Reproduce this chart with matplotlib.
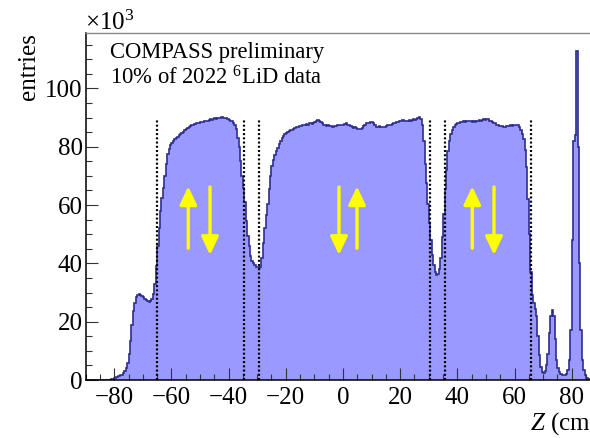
import numpy as np
import matplotlib
matplotlib.use("Agg")
import matplotlib.pyplot as plt
from matplotlib.ticker import MultipleLocator

plt.rcParams['font.family'] = ['Liberation Serif', 'DejaVu Serif']
plt.rcParams['mathtext.fontset'] = 'custom'
plt.rcParams['mathtext.rm'] = 'Liberation Serif'
plt.rcParams['mathtext.it'] = 'Liberation Serif:italic'

# entries per 0.5 cm bin, in units of 10^3, one row per 10 cm (from Z = -90 cm)
entries_k = [
    0, 0, 0, 0, 0, 0, 0, 0, 0, 0, 0, 0, 0, 0, 0, 0, 0, 0, 0.2, 0.5,                          # -90
    0.8, 1.0, 1.2, 1.4, 1.6, 1.8, 2.3, 3.0, 4.2, 6.0, 9, 13.5, 19, 23.5, 26.5, 28.5, 29.3, 29.6, 29.3, 28.8,  # -80
    28.3, 27.8, 27.4, 27.0, 26.8, 27.0, 27.8, 29.5, 33, 39, 46, 52, 58, 62.5, 66, 70, 74, 77.5, 79.3, 80.5,  # -70
    81.3, 82, 82.6, 83, 83.5, 84, 84.4, 84.8, 85.2, 85.7, 86, 86.4, 86.8, 87.1, 87.3, 87.6, 87.8, 88, 88.1, 88.3,  # -60
    88.5, 88.6, 88.4, 88.8, 89.0, 88.9, 89.2, 89.5, 89.3, 89.4, 89.7, 89.5, 89.8, 90.0, 89.8, 90.1, 90.0, 89.8, 89.9, 89.6,  # -50
    89.3, 89.0, 88.7, 88.2, 87.5, 86, 83, 80, 75, 70, 66, 61, 54.5, 49.5, 46, 42.5, 40.8, 40.0, 39.4, 38.9,  # -40
    38.6, 38.5, 38.8, 42, 47, 52, 56.5, 60.5, 65.5, 70, 73.5, 75.5, 77, 78.5, 79.7, 80.8, 82, 82.9, 83.6, 84.2,  # -30
    84.7, 85.1, 85.4, 85.6, 85.9, 86.2, 86.4, 86.7, 86.9, 87.0, 87.2, 87.4, 87.3, 87.6, 87.8, 87.6, 88.0, 88.1, 87.9, 88.3,  # -20
    88.5, 88.9, 89.1, 88.8, 88.4, 88.0, 87.6, 87.4, 87.2, 87.3, 87.0, 87.1, 86.8, 86.9, 87.0, 87.2, 87.3, 87.5, 87.6, 87.4,  # -10
    87.6, 87.9, 88.0, 87.6, 87.3, 87.0, 86.7, 86.5, 86.6, 86.3, 86.0, 86.2, 86.0, 86.5, 87.1, 87.6, 88.0, 88.3, 88.2, 88.6,  # 0
    88.5, 88.0, 87.3, 86.9, 86.8, 87.0, 86.6, 86.8, 86.7, 86.9, 87.1, 87.4, 87.5, 87.6, 87.9, 88.0, 88.3, 88.5, 88.4, 88.7,  # 10
    88.9, 89.1, 89.2, 88.9, 88.7, 88.8, 89.2, 89.0, 89.3, 89.5, 89.3, 89.6, 89.8, 90.1, 89.5, 87.5, 82, 74, 67.5, 60.5,  # 20
    54, 48, 43, 39.5, 37, 36.1, 36.3, 38, 42, 49, 57, 65.5, 72, 78.5, 82, 84.3, 85.8, 86.8, 87.4, 87.9,  # 30
    88.1, 88.3, 88.5, 88.4, 88.7, 88.6, 88.8, 89.0, 88.7, 88.9, 88.6, 88.8, 88.5, 88.7, 88.9, 89.1, 88.8, 89.2, 89.4, 89.3,  # 40
    89.6, 89.4, 89.0, 88.7, 88.5, 88.2, 88.0, 87.6, 87.4, 87.2, 87.0, 87.1, 86.9, 86.8, 87.0, 87.2, 87.0, 87.3, 87.2, 87.5,  # 50
    87.4, 87.6, 87.3, 86.8, 85.8, 84.5, 82.5, 79, 73, 62, 50, 37, 29, 26.5, 24.5, 22, 15, 8.5, 4.5, 2.8,  # 60
    2.4, 3.0, 5, 9, 16, 22, 24, 22, 14, 7, 4.2, 2.8, 2.2, 1.8, 1.6, 1.7, 2.2, 3.5, 7, 17,  # 70
    48, 82, 84, 113, 80, 40, 17, 7, 3.5, 1.6, 0.8, 0.5, 0.4, 0.3, 0.3, 0.2, 0.2, 0.2, 0.1, 0.1,  # 80
]
z_min, z_max, bin_w = -90, 90, 0.5

# target cell boundaries (dotted lines) and their height
cell_edges = [-65, -34.5, -29.4, 30.4, 35.7, 65.6]
cell_line_top = 89.5

# spin arrows: (z, direction) ; +1 up, -1 down
arrows_z = [-54.1, -46.5, -1.4, 4.9, 45.2, 52.8]
arrows_dir = [1, -1, -1, 1, 1, -1]

edges = np.arange(z_min, z_max + bin_w / 2, bin_w)
vals = np.array(entries_k)
assert len(vals) == len(edges) - 1

fig = plt.figure(figsize=(5.9, 4.38), dpi=100)
ax = fig.add_axes([0.1451, 0.1324, 0.8725, 0.7922])

ax.stairs(vals, edges, fill=True, color='#9999ff', linewidth=0)
ax.stairs(vals, edges, color='#2e2e8f', linewidth=1.2)

for z in cell_edges:
    ax.plot([z, z], [0, cell_line_top], color='black', lw=1.6, linestyle=(0, (0.9, 1.0)))

for z, d in zip(arrows_z, arrows_dir):
    if d > 0:
        tail, tip = 45.2, 66.4
    else:
        tail, tip = 66.2, 42.9
    ax.annotate('', xy=(z, tip), xytext=(z, tail),
                arrowprops=dict(arrowstyle='-|>,head_length=0.55,head_width=0.26',
                                color='#ffff00', lw=2.4, mutation_scale=20,
                                shrinkA=0, shrinkB=0))

ax.set_xlim(z_min, z_max)
ax.set_ylim(0, 119)
ax.xaxis.set_major_locator(MultipleLocator(20))
ax.xaxis.set_minor_locator(MultipleLocator(5))
ax.yaxis.set_major_locator(MultipleLocator(20))
ax.yaxis.set_minor_locator(MultipleLocator(5))
ax.tick_params(which='both', direction='in', width=0.8, color='#333333', labelsize=18)
ax.tick_params(which='major', length=8.6)
ax.tick_params(which='minor', length=4.3)
ax.tick_params(axis='x', pad=5)
ax.tick_params(axis='y', pad=2)
ax.spines['right'].set_visible(False)
ax.spines['top'].set_color('#888888')
ax.spines['top'].set_linewidth(1.0)
for s in ['left', 'bottom']:
    ax.spines[s].set_linewidth(1.1)

ax.text(-81.5, 110.5, 'COMPASS preliminary', fontsize=16.3, va='baseline')
ax.text(-81.5, 101.2, r'10% of 2022 $^{6}$LiD data', fontsize=16.3, va='baseline')

fig.text(85 / 590, 1 - 30 / 438, r'$\times$10$^{3}$', fontsize=18, va='baseline')
fig.text(29.5 / 590, 1 - 33 / 438, 'entries', fontsize=18, rotation=90, ha='center', va='top')
# the x title runs past the right edge, as in the original crop
fig.text(530 / 590, 8 / 438, r'$Z$ (cm)', fontsize=18, va='baseline')

plt.savefig('out.png', dpi=100)
